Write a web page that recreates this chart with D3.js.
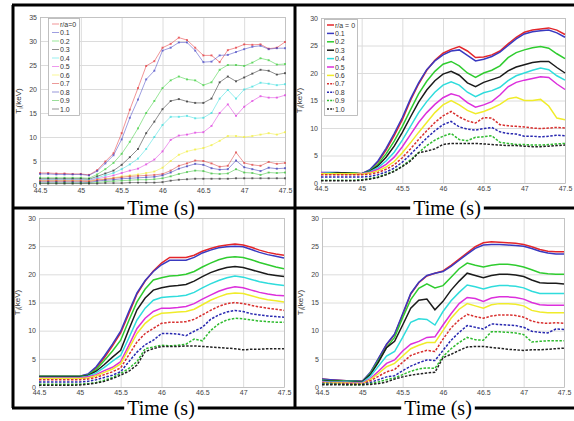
<!DOCTYPE html>
<html>
<head>
<meta charset="utf-8">
<script src="https://cdn.jsdelivr.net/npm/d3@7"></script>
<style>
  body { margin: 0; background: #fff; }
  svg { display: block; }
  .tick text { font-family: "Liberation Sans", Arial, sans-serif; font-size: 7px; fill: #444; }
</style>
</head>
<body>
<svg id="chart" width="574" height="421"></svg>
<script>
// time base, 0.1 s steps
const times = d3.range(31).map(i => +(44.5 + i * 0.1).toFixed(1))
const xTicks = [44.5, 45, 45.5, 46, 46.5, 47, 47.5]
const legendA = ['r/a=0', '0.1', '0.2', '0.3', '0.4', '0.5', '0.6', '0.7', '0.8', '0.9', '1.0']
const legendB = ['r/a = 0', '0.1', '0.2', '0.3', '0.4', '0.5', '0.6', '0.7', '0.8', '0.9', '1.0']

// Ti (keV), one row per r/a
const tiA = [
  [2.5,2.5,2.4,2.4,2.3,2.3,2.1,3.1,4.9,6.6,10.8,15.7,20.2,24.8,25.8,28.6,29.4,30.7,30.2,28.6,27.0,27.0,25.6,28.1,28.6,29.3,29.2,29.3,28.4,28.6,29.8],
  [2.3,2.3,2.2,2.2,2.2,2.2,2.0,2.9,4.5,6.2,9.5,14.0,17.8,22.0,23.8,28.0,28.6,29.7,29.7,28.0,25.6,25.7,27.0,27.1,27.7,28.3,28.8,29.0,28.3,28.5,28.5],
  [1.5,1.5,1.5,1.5,1.5,1.5,1.4,2.2,3.3,4.6,6.5,9.0,11.8,15.0,17.5,20.2,21.8,22.6,22.0,21.8,20.8,21.4,24.0,25.0,25.0,24.8,25.5,26.4,26.0,25.1,25.2],
  [1.3,1.3,1.3,1.3,1.3,1.3,1.2,1.8,2.4,3.0,4.2,5.8,7.5,10.8,13.2,15.8,17.5,17.9,17.4,17.1,17.1,18.0,21.4,22.6,21.6,22.4,23.2,24.0,23.8,23.0,23.3],
  [1.1,1.1,1.1,1.1,1.1,1.1,1.0,1.5,2.0,2.5,3.3,4.3,5.5,7.5,10.0,12.5,14.2,14.2,14.4,13.9,14.0,15.0,18.0,19.8,18.0,19.9,20.5,21.3,21.1,20.8,21.0],
  [1.0,1.0,1.0,1.0,1.0,1.0,0.9,1.3,1.6,2.0,2.5,3.0,3.4,4.3,5.3,7.0,9.4,10.3,10.5,10.9,11.0,12.3,15.0,16.8,14.4,16.3,17.5,18.5,18.2,18.2,18.7],
  [0.9,0.9,0.9,0.9,0.9,0.9,0.8,1.1,1.3,1.5,1.8,2.0,2.2,2.5,2.8,3.6,5.0,6.3,7.0,7.4,7.7,8.3,9.2,10.2,10.2,10.0,10.2,10.5,10.8,10.5,11.0],
  [0.8,0.8,0.8,0.8,0.8,0.8,0.7,1.0,1.2,1.4,1.6,1.8,1.9,2.0,2.1,2.3,3.0,4.0,4.5,5.1,5.0,4.5,3.8,4.0,6.8,4.6,4.2,4.0,4.8,4.4,4.6],
  [0.6,0.6,0.6,0.6,0.6,0.6,0.5,0.8,1.0,1.1,1.3,1.4,1.5,1.6,1.7,2.0,2.6,3.4,3.9,4.4,4.2,3.5,3.2,3.3,5.1,3.7,3.3,2.9,3.6,3.4,3.5],
  [0.4,0.4,0.4,0.4,0.4,0.4,0.4,0.5,0.7,0.8,0.9,1.0,1.1,1.1,1.2,1.4,1.8,2.3,2.7,3.0,2.9,2.4,2.3,2.4,3.3,2.6,2.5,2.1,2.6,2.5,2.6],
  [0.3,0.3,0.3,0.3,0.3,0.3,0.3,0.3,0.4,0.4,0.4,0.5,0.5,0.5,0.5,0.6,0.9,1.1,1.2,1.3,1.3,1.3,1.3,1.3,1.4,1.4,1.4,1.4,1.4,1.4,1.4]
]

const tiB = [
  [1.8,1.8,1.8,1.8,1.8,1.7,2.3,3.8,6.0,8.6,11.5,15.0,18.0,20.5,22.3,23.6,24.3,24.8,24.0,22.8,22.9,23.3,24.0,25.3,26.5,27.4,27.8,28.0,28.2,27.8,27.0],
  [1.9,1.9,1.9,1.8,1.8,1.7,2.4,4.0,6.3,9.0,11.9,15.3,18.2,20.6,22.2,23.3,24.0,24.2,23.2,22.2,22.5,23.0,23.8,25.0,26.2,27.1,27.5,27.7,27.8,27.3,26.5],
  [1.8,1.8,1.8,1.8,1.8,1.7,2.2,3.4,5.3,7.6,10.3,13.3,16.2,18.5,20.3,21.6,22.1,21.3,20.0,19.2,20.0,20.5,21.3,22.8,23.7,24.2,24.6,24.8,24.5,23.5,22.6],
  [1.8,1.8,1.8,1.8,1.7,1.7,2.1,3.1,4.7,6.7,9.2,12.0,14.7,16.9,18.6,19.8,20.3,19.6,18.2,17.5,18.3,18.8,19.3,20.4,21.1,21.5,21.9,22.1,22.1,21.0,20.0],
  [1.8,1.8,1.7,1.7,1.7,1.7,2.0,2.8,4.0,5.6,7.8,10.3,12.8,14.8,16.5,17.8,18.4,17.8,16.5,15.7,16.4,16.8,17.4,18.6,19.5,20.0,20.5,20.9,20.6,19.5,18.7],
  [1.8,1.7,1.7,1.7,1.7,1.7,1.9,2.5,3.4,4.7,6.6,8.8,11.0,12.8,14.3,15.5,16.2,15.8,14.6,13.8,14.2,14.8,16.0,17.5,18.3,18.7,19.0,19.3,19.2,18.0,17.0],
  [1.7,1.7,1.7,1.7,1.7,1.6,1.8,2.2,2.9,3.9,5.5,7.3,9.2,11.0,12.8,14.2,15.0,14.2,13.2,12.6,13.0,13.6,14.3,15.3,15.6,15.0,15.0,15.2,14.0,11.8,11.5],
  [1.5,1.5,1.5,1.5,1.5,1.5,1.6,1.9,2.5,3.3,4.6,6.2,7.9,9.5,11.0,12.2,13.0,12.0,11.3,10.9,11.9,11.8,10.6,10.4,10.3,10.2,10.0,9.9,10.0,10.1,10.0],
  [1.1,1.1,1.1,1.1,1.1,1.1,1.2,1.5,2.0,2.7,3.8,5.2,6.7,8.2,9.5,10.6,11.2,10.2,9.8,9.6,9.9,10.1,9.3,9.0,8.9,8.5,8.5,8.4,8.5,8.7,8.6],
  [0.5,0.5,0.5,0.5,0.5,0.6,0.8,1.1,1.6,2.2,3.1,4.2,5.5,6.8,7.8,8.5,9.0,7.9,7.7,8.3,8.4,8.6,7.4,7.2,7.0,7.0,6.9,6.9,7.0,7.1,7.2],
  [0.4,0.4,0.4,0.4,0.4,0.5,0.7,1.0,1.5,2.1,3.0,4.0,5.5,5.8,6.2,7.0,7.2,7.2,7.2,7.2,7.1,7.0,6.9,6.8,6.8,6.7,6.6,6.6,6.7,6.8,6.9]
]

const tiC = [
  [1.9,1.9,1.9,1.9,1.9,1.9,2.2,3.4,5.2,7.3,9.6,13.0,16.5,18.8,20.6,22.0,23.0,23.0,23.0,23.4,24.1,24.6,25.0,25.2,25.4,25.2,24.8,24.3,23.9,23.6,23.4],
  [1.9,1.9,1.9,1.9,1.9,1.9,2.3,3.6,5.5,7.6,9.9,13.4,16.7,18.9,20.5,21.7,22.5,22.5,22.5,23.0,23.8,24.3,24.7,24.9,25.0,24.9,24.4,23.9,23.5,23.2,22.9],
  [1.9,1.9,1.9,1.9,1.9,1.9,2.1,3.1,4.7,6.4,8.3,11.8,15.1,17.4,19.0,19.4,19.7,19.8,20.0,20.5,21.3,22.0,22.6,23.0,23.1,23.0,22.6,22.1,21.7,21.3,21.0],
  [1.8,1.8,1.8,1.8,1.8,1.8,2.0,2.8,4.0,5.3,6.5,10.2,13.7,15.8,17.2,17.6,17.9,18.0,18.2,18.8,19.6,20.3,20.8,21.2,21.4,21.2,20.8,20.4,20.0,19.8,19.6],
  [1.7,1.7,1.7,1.7,1.7,1.7,1.9,2.5,3.5,4.6,5.6,8.7,11.9,14.0,15.4,15.9,16.0,16.1,16.3,16.8,17.6,18.3,18.9,19.4,19.7,19.5,19.1,18.7,18.4,18.2,18.0],
  [1.6,1.6,1.6,1.6,1.6,1.6,1.8,2.2,2.9,3.5,4.5,7.4,10.4,12.2,13.4,14.0,14.0,14.1,14.3,14.8,15.6,16.3,17.0,17.5,17.8,17.6,17.2,16.8,16.5,16.3,16.2],
  [1.5,1.5,1.5,1.5,1.5,1.5,1.6,2.0,2.6,3.2,4.1,6.8,9.5,11.3,12.5,13.1,13.2,13.3,13.4,13.8,14.6,15.4,16.0,16.5,16.7,16.6,16.2,15.8,15.5,15.3,15.1],
  [1.3,1.3,1.3,1.3,1.3,1.3,1.4,1.7,2.2,2.7,3.4,5.7,8.0,9.5,10.4,11.3,11.5,11.5,11.6,12.0,12.8,13.6,14.3,14.8,15.0,14.8,14.5,14.2,14.0,13.8,13.6],
  [0.9,0.9,0.9,0.9,0.9,0.9,1.0,1.3,1.7,2.1,2.7,4.5,6.2,7.5,8.3,9.5,9.5,9.4,9.1,9.9,10.6,12.0,12.8,13.3,13.6,13.4,13.0,12.8,12.6,12.5,12.4],
  [0.5,0.5,0.5,0.5,0.5,0.5,0.6,0.8,1.2,1.7,2.4,3.3,4.5,6.8,7.1,7.4,7.3,7.4,7.6,8.5,8.2,10.0,11.2,11.9,12.2,12.1,11.9,11.7,11.6,11.5,11.5],
  [0.3,0.3,0.3,0.3,0.3,0.35,0.5,0.7,1.0,1.5,2.1,2.8,3.9,6.3,6.8,7.2,7.2,7.2,7.3,7.3,7.2,7.1,7.0,6.9,6.8,6.6,6.7,6.7,6.8,6.8,6.8]
]

const tiD = [
  [1.4,1.3,1.2,1.1,1.1,1.0,2.5,5.0,7.5,9.3,12.8,16.5,18.5,19.7,20.2,20.6,21.6,22.7,23.8,24.9,25.6,25.8,25.7,25.6,25.5,25.3,24.9,24.4,24.1,24.0,24.0],
  [1.4,1.3,1.2,1.1,1.1,1.0,2.6,5.1,7.6,9.4,13.0,16.6,18.6,19.8,20.2,20.5,21.4,22.5,23.6,24.6,25.2,25.3,25.3,25.2,25.1,25.0,24.6,24.1,23.8,23.6,23.6],
  [1.2,1.1,1.1,1.0,1.0,0.9,2.4,4.7,7.0,8.8,12.3,15.5,17.5,18.3,17.6,18.0,19.5,21.0,22.0,21.6,21.3,21.6,21.8,21.8,21.6,21.3,20.8,20.3,20.1,20.0,20.0],
  [1.1,1.0,1.0,0.9,0.9,0.9,2.2,4.4,7.0,8.1,11.0,14.0,15.4,15.6,13.7,15.2,17.2,18.8,20.2,19.8,19.4,19.8,20.0,20.0,19.9,19.6,19.0,18.5,18.4,18.4,18.3],
  [1.0,0.9,0.9,0.9,0.8,0.8,1.9,3.7,5.5,6.3,8.8,11.5,12.1,12.0,11.0,13.4,15.3,16.8,18.1,17.8,17.4,17.8,18.0,18.0,17.9,17.6,17.0,16.6,16.6,16.6,16.6],
  [0.9,0.8,0.8,0.8,0.7,0.7,1.5,2.8,4.2,4.8,6.4,7.6,8.1,8.8,8.9,11.0,13.0,14.8,15.9,15.7,15.2,15.8,16.0,16.0,15.9,15.6,15.0,14.6,14.5,14.5,14.5],
  [0.8,0.7,0.7,0.7,0.6,0.6,1.3,2.4,3.6,4.2,5.5,6.8,7.4,7.9,7.9,10.0,12.2,13.8,14.8,14.4,14.0,14.6,14.8,14.8,14.7,14.4,13.6,13.3,13.2,13.2,13.2],
  [0.7,0.6,0.6,0.6,0.5,0.5,1.1,1.9,2.7,3.1,4.4,5.6,6.1,6.5,6.3,8.5,10.5,11.9,12.9,12.5,12.2,12.6,12.8,12.8,12.7,12.4,11.7,11.4,11.3,11.4,11.3],
  [0.6,0.6,0.5,0.5,0.5,0.5,0.8,1.3,1.8,2.0,2.9,3.7,4.3,4.8,4.7,6.5,8.3,9.7,10.9,10.6,10.3,11.2,11.1,11.0,10.9,10.6,9.9,9.7,9.6,10.3,10.2],
  [0.5,0.5,0.5,0.4,0.4,0.4,0.6,0.9,1.3,1.6,2.2,2.8,3.2,3.4,3.3,5.4,6.8,7.9,8.8,8.4,8.3,9.8,9.8,9.7,9.6,9.3,8.0,8.1,8.2,8.2,8.2],
  [0.4,0.4,0.4,0.4,0.4,0.4,0.45,0.6,0.9,1.4,1.8,2.1,2.3,2.5,2.6,5.2,5.8,6.5,7.1,7.2,7.2,7.0,6.9,6.7,6.6,6.5,6.6,6.6,6.7,6.8,6.9]
]

const colors = ['#e3262b', '#3a3ac0', '#2fcc2f', '#1b1b1b', '#2fdcdc', '#dc2fdc', '#f0ec2a', '#d8302f', '#2828b0', '#2fbb2f', '#222222']

const panels = [
  { data: tiA, ymax: 35, left: 40,  right: 285, top: 17,  bottom: 185, light: true,
    legend: { labels: legendA, x: 48, y: 18, w: 31, h: 97, lx: 52, tx: 60 } },
  { data: tiB, ymax: 30, left: 321, right: 565, top: 18,  bottom: 183,
    legend: { labels: legendB, x: 324, y: 19, w: 33, h: 96, lx: 327, tx: 335 } },
  { data: tiC, ymax: 30, left: 39,  right: 284, top: 218, bottom: 387 },
  { data: tiD, ymax: 30, left: 322, right: 564, top: 218, bottom: 387 }
]

const svg = d3.select('#chart')

panels.forEach(p => {
  let x = d3.scaleLinear().domain([44.5, 47.5]).range([p.left, p.right])
  let y = d3.scaleLinear().domain([0, p.ymax]).range([p.bottom, p.top])
  let g = svg.append('g')
  let w = p.right - p.left, h = p.bottom - p.top

  g.append('rect')
    .attr('x', p.left).attr('y', p.top).attr('width', w).attr('height', h)
    .attr('fill', '#fff')

  // grid
  g.append('g')
    .attr('transform', 'translate(0,' + p.bottom + ')')
    .call(d3.axisBottom(x).tickValues(xTicks).tickSize(-h).tickFormat(''))
    .call(a => a.select('.domain').remove())
    .selectAll('line').attr('stroke', '#dcdcdc')
  g.append('g')
    .attr('transform', 'translate(' + p.left + ',0)')
    .call(d3.axisLeft(y).ticks(p.ymax / 5).tickSize(-w).tickFormat(''))
    .call(a => a.select('.domain').remove())
    .selectAll('line').attr('stroke', '#dcdcdc')

  // tick labels
  g.append('g')
    .attr('transform', 'translate(0,' + p.bottom + ')')
    .call(d3.axisBottom(x).tickValues(xTicks).tickSize(0).tickPadding(3).tickFormat(d => String(d)))
    .call(a => a.select('.domain').remove())
  g.append('g')
    .attr('transform', 'translate(' + p.left + ',0)')
    .call(d3.axisLeft(y).ticks(p.ymax / 5).tickSize(0).tickPadding(3))
    .call(a => a.select('.domain').remove())

  g.append('rect')
    .attr('x', p.left + 0.5).attr('y', p.top + 0.5).attr('width', w).attr('height', h)
    .attr('fill', 'none').attr('stroke', '#bdbdbd').attr('stroke-width', 0.8)

  // y label
  let yl = g.append('text')
    .attr('transform', 'translate(' + (p.left - 19) + ',' + ((p.top + p.bottom) / 2) + ') rotate(-90)')
    .attr('text-anchor', 'middle')
    .style('font-family', '"Liberation Sans", Arial, sans-serif')
    .style('font-size', '8px').attr('fill', '#333')
  yl.append('tspan').text('T')
  yl.append('tspan').attr('dy', 2).style('font-size', '6px').text('i')
  yl.append('tspan').attr('dy', -2).text('(keV)')

  let line = d3.line().x((d, i) => x(times[i])).y(d => y(d))

  let series = g.append('g')
  p.data.forEach((row, k) => {
    series.append('path')
      .attr('d', line(row))
      .attr('fill', 'none')
      .attr('stroke', colors[k])
      .attr('stroke-width', p.light ? 0.9 : 1.5)
      .attr('stroke-opacity', p.light ? 0.55 : 1)
      .attr('stroke-dasharray', (!p.light && k >= 7) ? '2.5,1.5' : null)
    if(p.light) {
      series.append('g').selectAll('rect')
        .data(row).join('rect')
        .attr('x', (d, i) => x(times[i]) - 1).attr('y', d => y(d) - 1)
        .attr('width', 2).attr('height', 2)
        .attr('fill', colors[k]).attr('fill-opacity', 0.6)
    }
  })

  if(p.legend) {
    let L = p.legend
    let lg = g.append('g')
    lg.append('rect')
      .attr('x', L.x + 0.5).attr('y', L.y + 0.5).attr('width', L.w).attr('height', L.h)
      .attr('fill', '#fff').attr('stroke', '#b0b0b0').attr('stroke-width', 0.8)
    let step = (L.h - 12) / (L.labels.length - 1)
    L.labels.forEach((lab, k) => {
      let cy = L.y + 6 + k * step
      lg.append('line')
        .attr('x1', L.lx).attr('x2', L.lx + 7).attr('y1', cy).attr('y2', cy)
        .attr('stroke', colors[k])
        .attr('stroke-width', p.light ? 0.9 : 1.5)
        .attr('stroke-opacity', p.light ? 0.55 : 1)
        .attr('stroke-dasharray', (!p.light && k >= 7) ? '2,1.2' : null)
      lg.append('text')
        .attr('x', L.tx).attr('y', cy + 2.5)
        .style('font-family', '"Liberation Sans", Arial, sans-serif')
        .style('font-size', '7px').attr('fill', '#333')
        .text(lab)
    })
  }
})

// frame
const frame = [
  [13, 5, 13, 408], [295, 5, 295, 408],
  [12, 5, 574, 5], [12, 208, 574, 208], [12, 408, 574, 408]
]
svg.append('g').selectAll('line').data(frame).join('line')
  .attr('x1', d => d[0]).attr('y1', d => d[1]).attr('x2', d => d[2]).attr('y2', d => d[3])
  .attr('stroke', '#000').attr('stroke-width', 3)

// "Time (s)" labels sitting on the frame lines
const timeLabels = [[161, 208], [447, 208], [161, 408], [438, 408]]
timeLabels.forEach(([cx, cy]) => {
  let lg = svg.append('g')
  let bg = lg.append('rect').attr('fill', '#fff')
  let t = lg.append('text')
    .attr('x', cx).attr('y', cy + 7)
    .attr('text-anchor', 'middle')
    .style('font-family', '"Liberation Serif", "Times New Roman", serif')
    .style('font-size', '20px')
    .text('Time (s)')
  let b = t.node().getBBox()
  bg.attr('x', b.x - 3).attr('y', cy - 3).attr('width', b.width + 6).attr('height', 6)
})
</script>
</body>
</html>
